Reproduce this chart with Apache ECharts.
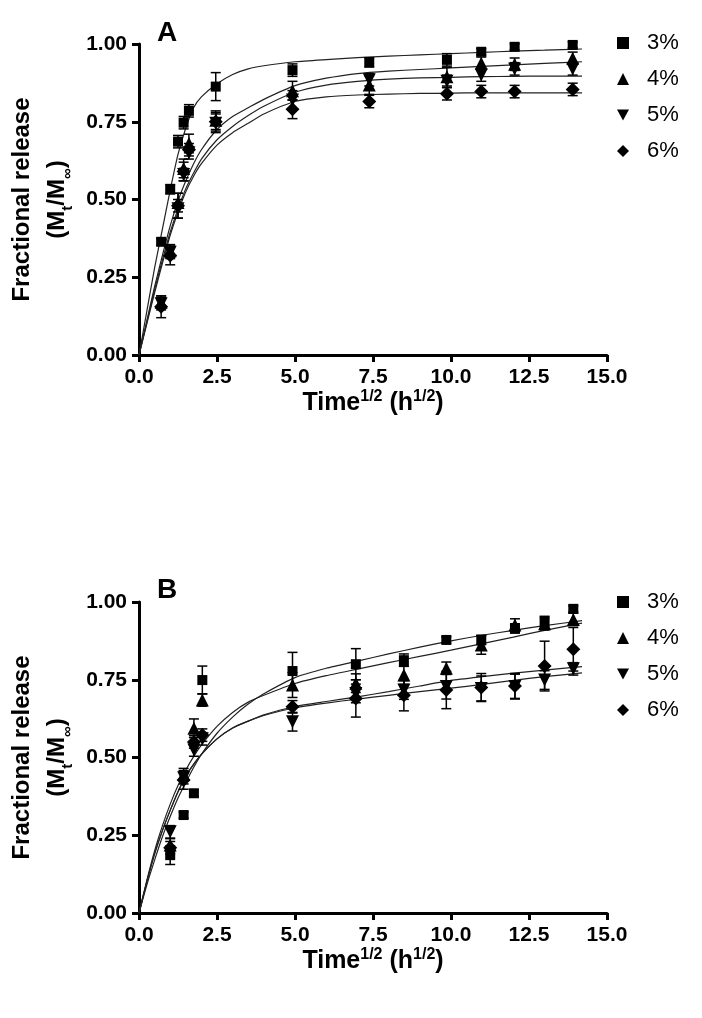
<!DOCTYPE html>
<html>
<head>
<meta charset="utf-8">
<script src="https://cdn.jsdelivr.net/npm/echarts@6/dist/echarts.min.js"></script>
<style>
  html, body { margin: 0; padding: 0; background: #fff; }
  #chart { width: 702px; height: 1018px; }
</style>
</head>
<body>
<div id="chart"></div>
<script>
// ---- panel A: measured points (x = time^1/2) ----
const xA = [0.71, 1.0, 1.25, 1.43, 1.6, 2.46, 4.92, 7.38, 9.87, 10.97, 12.04, 13.9];
const a3 = [0.364, 0.533, 0.686, 0.747, 0.785, 0.863, 0.916, 0.941, 0.949, 0.975, 0.991, 0.997];
const a4 = [0.17, 0.335, 0.49, 0.6, 0.68, 0.755, 0.85, 0.868, 0.895, 0.938, 0.935, 0.954];
const a5 = [0.165, 0.33, 0.47, 0.58, 0.65, 0.745, 0.82, 0.885, 0.88, 0.9, 0.92, 0.92];
const a6 = [0.155, 0.32, 0.48, 0.59, 0.66, 0.75, 0.79, 0.815, 0.84, 0.847, 0.847, 0.854];
const eA3 = [0.01, 0.015, 0.02, 0.02, 0.02, 0.045, 0.02, 0.015, 0.02, 0.01, 0.01, 0.01];
const eA4 = [0.02, 0.02, 0.03, 0.03, 0.03, 0.03, 0.03, 0.03, 0.03, 0.02, 0.02, 0.02];
const eA5 = [0.02, 0.02, 0.03, 0.02, 0.02, 0.03, 0.03, 0.02, 0.02, 0.02, 0.02, 0.02];
const eA6 = [0.035, 0.03, 0.04, 0.03, 0.02, 0.03, 0.03, 0.02, 0.02, 0.02, 0.02, 0.02];

// fitted curves at these x positions
const fitX = [0, 0.25, 0.5, 0.75, 1, 1.25, 1.5, 1.75, 2, 2.5, 3, 3.5, 4, 5, 6, 7, 8, 9, 10, 11, 12, 13, 14.2];
const fA3 = [0, 0.14, 0.28, 0.405, 0.53, 0.645, 0.73, 0.795, 0.83, 0.872, 0.902, 0.92, 0.93, 0.943, 0.95, 0.956, 0.961, 0.965, 0.969, 0.973, 0.977, 0.98, 0.984];
const fA4 = [0, 0.11, 0.22, 0.32, 0.415, 0.495, 0.56, 0.615, 0.66, 0.725, 0.767, 0.795, 0.822, 0.866, 0.89, 0.905, 0.913, 0.918, 0.923, 0.928, 0.933, 0.938, 0.943];
const fA5 = [0, 0.105, 0.21, 0.305, 0.395, 0.47, 0.535, 0.585, 0.63, 0.692, 0.735, 0.77, 0.8, 0.845, 0.868, 0.88, 0.887, 0.891, 0.893, 0.895, 0.896, 0.897, 0.897];
const fA6 = [0, 0.1, 0.2, 0.295, 0.385, 0.46, 0.525, 0.575, 0.615, 0.675, 0.715, 0.745, 0.775, 0.815, 0.83, 0.836, 0.839, 0.841, 0.842, 0.843, 0.843, 0.843, 0.843];

// ---- panel B ----
const xB = [1.0, 1.43, 1.76, 2.03, 4.92, 6.95, 8.49, 9.85, 10.97, 12.05, 13.0, 13.92];
const b3 = [0.186, 0.315, 0.385, 0.749, 0.778, 0.8, 0.813, 0.878, 0.878, 0.915, 0.934, 0.978];
const b4 = [0.219, 0.445, 0.594, 0.685, 0.733, 0.739, 0.765, 0.787, 0.862, 0.926, 0.93, 0.944];
const b5 = [0.261, 0.435, 0.524, 0.56, 0.615, 0.706, 0.717, 0.728, 0.722, 0.728, 0.749, 0.785];
const b6 = [0.21, 0.428, 0.55, 0.572, 0.663, 0.69, 0.7, 0.717, 0.725, 0.73, 0.794, 0.848];
const eB3 = [0.03, 0.01, 0.01, 0.045, 0.06, 0.05, 0.02, 0.01, 0.015, 0.015, 0.02, 0.01];
const eB4 = [0.02, 0.02, 0.03, 0.02, 0.04, 0.03, 0.03, 0.02, 0.03, 0.02, 0.02, 0.02];
const eB5 = [0.02, 0.02, 0.02, 0.02, 0.03, 0.03, 0.03, 0.04, 0.04, 0.04, 0.03, 0.02];
const eB6 = [0.02, 0.03, 0.02, 0.02, 0.02, 0.06, 0.05, 0.06, 0.045, 0.04, 0.08, 0.07];

const fB3 = [0, 0.09, 0.17, 0.245, 0.31, 0.37, 0.42, 0.468, 0.51, 0.578, 0.63, 0.672, 0.705, 0.757, 0.787, 0.81, 0.833, 0.855, 0.875, 0.893, 0.909, 0.924, 0.94];
const fB4 = [0, 0.105, 0.2, 0.28, 0.35, 0.41, 0.46, 0.503, 0.54, 0.6, 0.645, 0.678, 0.7, 0.738, 0.763, 0.784, 0.805, 0.825, 0.845, 0.866, 0.887, 0.909, 0.932];
const fB5 = [0, 0.1, 0.19, 0.265, 0.33, 0.39, 0.44, 0.478, 0.51, 0.56, 0.595, 0.617, 0.635, 0.66, 0.675, 0.688, 0.7, 0.712, 0.723, 0.735, 0.748, 0.76, 0.772];
const fB6 = [0, 0.1, 0.19, 0.265, 0.33, 0.39, 0.44, 0.478, 0.51, 0.56, 0.595, 0.617, 0.637, 0.664, 0.68, 0.695, 0.712, 0.73, 0.748, 0.76, 0.771, 0.781, 0.792];

const seriesNames = ['3%', '4%', '5%', '6%'];
const xTicks = [0, 2.5, 5, 7.5, 10, 12.5, 15];
const yTicks = [0, 0.25, 0.5, 0.75, 1];

const FONT = 'Liberation Sans, Arial, sans-serif';
const invTri = 'path://M0,0 L10,0 L5,9 Z';
const markers = [
  { symbol: 'rect', size: 10, rotate: 0, icon: 'rect' },
  { symbol: 'triangle', size: 13, rotate: 0, icon: 'triangle' },
  { symbol: 'triangle', size: 13, rotate: 180, icon: invTri },
  { symbol: 'diamond', size: 14, rotate: 0, icon: 'diamond' },
];

const zip = (xs, ys) => xs.map((x, i) => [x, ys[i]]);
const zip3 = (xs, ys, es) => xs.map((x, i) => [x, ys[i], es[i]]);

function errorBars(params, api) {
  const x = api.value(0), y = api.value(1), e = api.value(2);
  const hi = api.coord([x, y + e]);
  const lo = api.coord([x, y - e]);
  const w = 5;
  const st = { stroke: '#000', lineWidth: 1.5 };
  return {
    type: 'group',
    children: [
      { type: 'line', shape: { x1: hi[0], y1: hi[1], x2: lo[0], y2: lo[1] }, style: st },
      { type: 'line', shape: { x1: hi[0] - w, y1: hi[1], x2: hi[0] + w, y2: hi[1] }, style: st },
      { type: 'line', shape: { x1: lo[0] - w, y1: lo[1], x2: lo[0] + w, y2: lo[1] }, style: st },
    ],
  };
}

function panelSeries(idx, xs, ys, errs, fits) {
  const out = [];
  fits.forEach((f, i) => {
    out.push({
      name: seriesNames[i], type: 'line', xAxisIndex: idx, yAxisIndex: idx,
      data: zip(fitX, f), showSymbol: false, symbol: 'none', smooth: 0.2,
      lineStyle: { color: '#222', width: 1.2 }, itemStyle: { color: '#000' }, silent: true, z: 2,
    });
  });
  ys.forEach((y, i) => {
    out.push({
      type: 'custom', xAxisIndex: idx, yAxisIndex: idx, renderItem: errorBars,
      data: zip3(xs, y, errs[i]), silent: true, z: 3,
    });
  });
  ys.forEach((y, i) => {
    const m = markers[i];
    out.push({
      name: seriesNames[i], type: 'scatter', xAxisIndex: idx, yAxisIndex: idx,
      data: zip(xs, y), symbol: m.symbol, symbolSize: m.size, symbolRotate: m.rotate,
      itemStyle: { color: '#000', opacity: 1 }, z: 4,
    });
  });
  return out;
}

const axisLbl = { color: '#000', fontWeight: 'bold', fontSize: 21, fontFamily: FONT };
const rich = {
  a: { fontSize: 24, fontWeight: 'bold', fontFamily: FONT, color: '#000', lineHeight: 35 },
  sub: { fontSize: 15, fontWeight: 'bold', fontFamily: FONT, color: '#000', verticalAlign: 'bottom', lineHeight: 31 },
  sup: { fontSize: 16, fontWeight: 'bold', fontFamily: FONT, color: '#000', verticalAlign: 'top', lineHeight: 22 },
  b: { fontSize: 25, fontWeight: 'bold', fontFamily: FONT, color: '#000', lineHeight: 28 },
};

function xAxisFor(idx) {
  return {
    type: 'value', gridIndex: idx, min: xTicks[0], max: xTicks[xTicks.length - 1], interval: 2.5,
    axisLine: { onZero: false, lineStyle: { color: '#000', width: 3 } },
    axisTick: { length: 7, lineStyle: { color: '#000', width: 3 } },
    axisLabel: Object.assign({ margin: 12, formatter: v => v.toFixed(1) }, axisLbl),
    splitLine: { show: false },
    name: '{b|Time}{sup|1/2}{b| (h}{sup|1/2}{b|)}',
    nameLocation: 'middle', nameGap: 33, nameTextStyle: { rich: rich },
  };
}
function yAxisFor(idx) {
  return {
    type: 'value', gridIndex: idx, min: yTicks[0], max: yTicks[yTicks.length - 1], interval: 0.25,
    axisLine: { onZero: false, lineStyle: { color: '#000', width: 3 } },
    axisTick: { length: 7, lineStyle: { color: '#000', width: 3 } },
    axisLabel: Object.assign({ margin: 12, formatter: v => v.toFixed(2) }, axisLbl),
    splitLine: { show: false },
    name: '{a|Fractional release}\n{a|(M}{sub|t}{a|/M}{sub|∞}{a|)}',
    nameLocation: 'middle', nameRotate: 90, nameGap: 61, nameTextStyle: { rich: rich },
  };
}

function legendFor(top) {
  return {
    orient: 'vertical', left: 612, top: top, itemWidth: 12, itemHeight: 12, itemGap: 14,
    selectedMode: false,
    textStyle: { fontSize: 22, fontFamily: FONT, color: '#000', padding: [0, 0, 0, 13], lineHeight: 22 },
    data: seriesNames.map((n, i) => ({ name: n, icon: markers[i].icon, itemStyle: { color: '#000' } })),
  };
}

const chart = echarts.init(document.getElementById('chart'), null, { renderer: 'canvas' });
chart.setOption({
  backgroundColor: '#fff',
  animation: false,
  title: [
    { text: 'A', left: 152, top: 14, textStyle: { fontSize: 28, fontWeight: 'bold', fontFamily: FONT, color: '#000' } },
    { text: 'B', left: 152, top: 571, textStyle: { fontSize: 28, fontWeight: 'bold', fontFamily: FONT, color: '#000' } },
  ],
  legend: [legendFor(27), legendFor(586)],
  grid: [
    { left: 139, top: 44, width: 468, height: 311 },
    { left: 139, top: 602, width: 468, height: 311 },
  ],
  xAxis: [xAxisFor(0), xAxisFor(1)],
  yAxis: [yAxisFor(0), yAxisFor(1)],
  series: [
    ...panelSeries(0, xA, [a3, a4, a5, a6], [eA3, eA4, eA5, eA6], [fA3, fA4, fA5, fA6]),
    ...panelSeries(1, xB, [b3, b4, b5, b6], [eB3, eB4, eB5, eB6], [fB3, fB4, fB5, fB6]),
  ],
});
</script>
</body>
</html>
